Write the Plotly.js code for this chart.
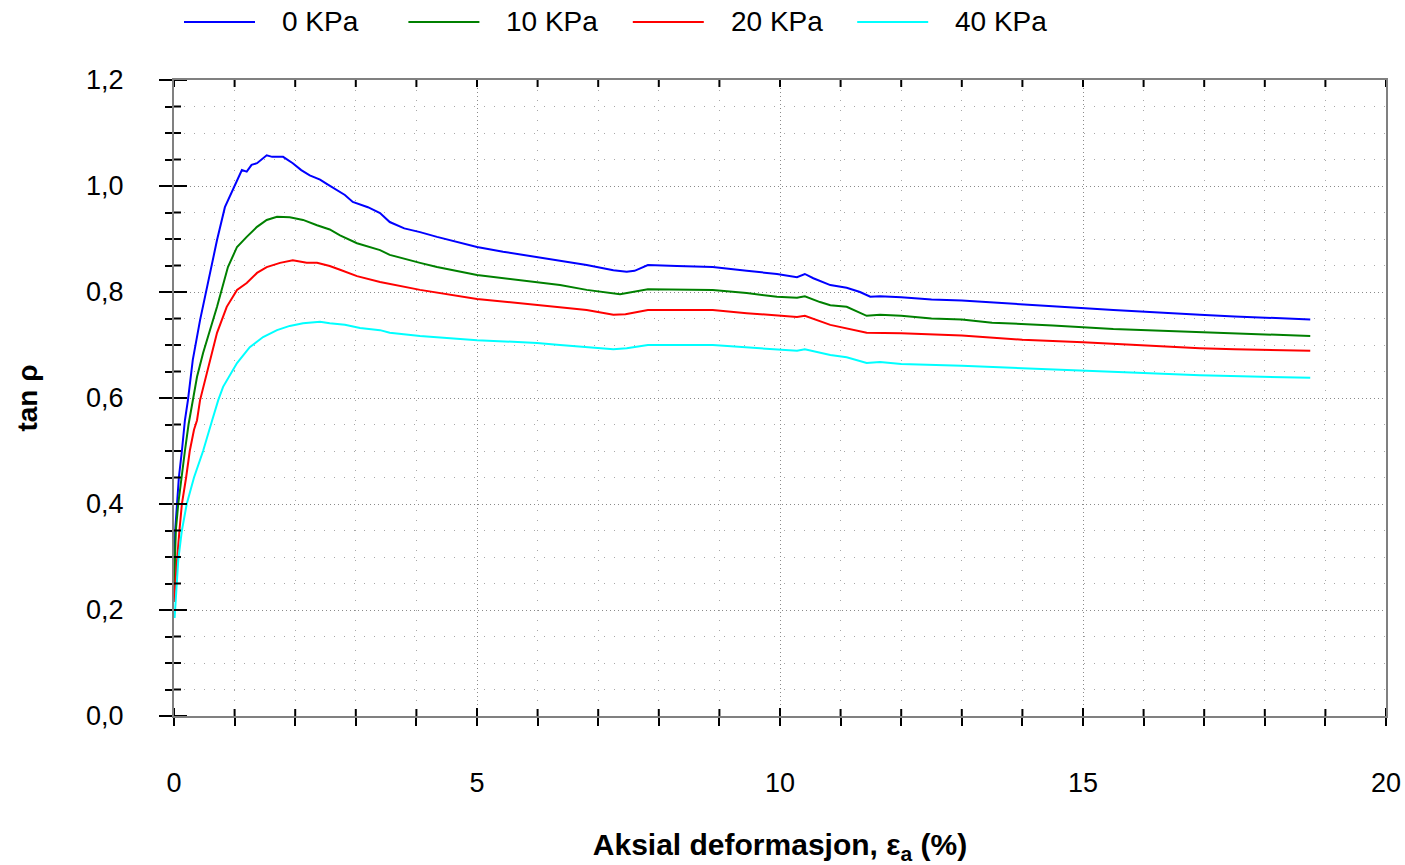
<!DOCTYPE html>
<html>
<head>
<meta charset="utf-8">
<script src="https://cdn.plot.ly/plotly-3.0.1.min.js"></script>
<style>
  html, body { margin: 0; padding: 0; background: #fff; }
  #chart { width: 1405px; height: 865px; }
</style>
</head>
<body>
<div id="chart"></div>
<script>
// Axial strain (%) and tan rho for each confining pressure
const seriesNames = ['0 KPa', '10 KPa', '20 KPa', '40 KPa'];
const seriesColors = ['#0000ff', '#008000', '#ff0000', '#00ffff'];

const strain0 = [0.0, 0.01, 0.02, 0.05, 0.08, 0.13, 0.18, 0.23, 0.31, 0.43, 0.59, 0.71, 0.84, 0.97, 1.04, 1.12, 1.2, 1.28, 1.37, 1.45, 1.53, 1.62, 1.8, 1.96, 2.1, 2.24, 2.41, 2.52, 2.82, 2.95, 3.2, 3.4, 3.56, 3.8, 4.06, 4.34, 4.7, 5.0, 5.43, 5.99, 6.37, 6.81, 7.25, 7.47, 7.6, 7.82, 8.3, 8.89, 9.45, 9.95, 10.28, 10.41, 10.55, 10.83, 11.1, 11.32, 11.49, 11.65, 12.0, 12.5, 13.0, 13.5, 14.5, 15.5, 16.2, 16.93, 17.5, 18.2, 18.75];
const tan0 = [0.22, 0.266, 0.35, 0.40, 0.45, 0.50, 0.558, 0.596, 0.672, 0.747, 0.836, 0.898, 0.96, 0.992, 1.011, 1.03, 1.027, 1.04, 1.043, 1.05, 1.058, 1.055, 1.055, 1.043, 1.03, 1.02, 1.012, 1.004, 0.983, 0.970, 0.96, 0.949, 0.932, 0.92, 0.913, 0.904, 0.893, 0.885, 0.876, 0.866, 0.858, 0.851, 0.841, 0.838, 0.840, 0.851, 0.849, 0.847, 0.840, 0.834, 0.828, 0.834, 0.826, 0.813, 0.808, 0.800, 0.791, 0.792, 0.790, 0.786, 0.784, 0.780, 0.773, 0.766, 0.761, 0.757, 0.754, 0.751, 0.748];

const strain10 = [0.0, 0.01, 0.03, 0.07, 0.12, 0.18, 0.24, 0.31, 0.38, 0.48, 0.6, 0.71, 0.89, 1.04, 1.2, 1.37, 1.53, 1.7, 1.91, 2.13, 2.36, 2.57, 2.74, 3.02, 3.4, 3.56, 4.06, 4.34, 5.0, 5.43, 5.99, 6.37, 6.81, 7.25, 7.36, 7.82, 8.3, 8.89, 9.45, 9.95, 10.28, 10.41, 10.66, 10.83, 11.1, 11.43, 11.65, 12.0, 12.5, 13.0, 13.5, 14.5, 15.5, 16.93, 17.5, 18.2, 18.75];
const tan10 = [0.238, 0.294, 0.35, 0.40, 0.45, 0.50, 0.55, 0.596, 0.64, 0.685, 0.73, 0.772, 0.847, 0.885, 0.904, 0.923, 0.936, 0.942, 0.941, 0.936, 0.926, 0.918, 0.907, 0.892, 0.879, 0.870, 0.855, 0.847, 0.832, 0.826, 0.817, 0.813, 0.804, 0.798, 0.796, 0.805, 0.804, 0.804, 0.798, 0.791, 0.789, 0.792, 0.781, 0.775, 0.772, 0.755, 0.757, 0.755, 0.750, 0.748, 0.742, 0.737, 0.730, 0.724, 0.721, 0.719, 0.717];

const strain20 = [0.0, 0.02, 0.05, 0.09, 0.13, 0.2, 0.26, 0.33, 0.38, 0.43, 0.54, 0.71, 0.87, 1.04, 1.2, 1.37, 1.53, 1.75, 1.96, 2.19, 2.36, 2.57, 2.74, 3.02, 3.4, 4.06, 5.0, 5.99, 6.37, 6.81, 7.25, 7.45, 7.82, 8.3, 8.89, 9.45, 9.95, 10.28, 10.41, 10.66, 10.83, 11.43, 11.65, 12.0, 13.0, 14.0, 15.0, 16.0, 16.93, 17.5, 18.75];
const tan20 = [0.215, 0.25, 0.294, 0.35, 0.40, 0.45, 0.50, 0.54, 0.558, 0.596, 0.647, 0.723, 0.772, 0.804, 0.817, 0.836, 0.847, 0.855, 0.860, 0.855, 0.855, 0.849, 0.842, 0.830, 0.819, 0.804, 0.787, 0.776, 0.772, 0.766, 0.757, 0.758, 0.766, 0.766, 0.766, 0.760, 0.755, 0.753, 0.755, 0.745, 0.738, 0.723, 0.723, 0.722, 0.718, 0.710, 0.705, 0.699, 0.694, 0.692, 0.689];

const strain40 = [0.01, 0.03, 0.07, 0.13, 0.21, 0.33, 0.48, 0.63, 0.73, 0.81, 1.04, 1.25, 1.47, 1.7, 1.91, 2.13, 2.41, 2.57, 2.82, 3.07, 3.4, 3.56, 4.06, 5.0, 5.99, 6.37, 6.81, 7.25, 7.47, 7.82, 8.89, 9.45, 9.95, 10.28, 10.41, 10.66, 10.83, 11.1, 11.43, 11.65, 12.0, 13.0, 14.0, 15.0, 16.0, 16.93, 18.75];
const tan40 = [0.185, 0.23, 0.294, 0.35, 0.40, 0.45, 0.50, 0.558, 0.596, 0.621, 0.666, 0.696, 0.715, 0.728, 0.736, 0.741, 0.744, 0.741, 0.738, 0.732, 0.728, 0.723, 0.717, 0.709, 0.704, 0.700, 0.696, 0.692, 0.694, 0.700, 0.700, 0.696, 0.692, 0.689, 0.692, 0.685, 0.681, 0.677, 0.666, 0.668, 0.664, 0.661, 0.656, 0.651, 0.647, 0.643, 0.638];

const strains = [strain0, strain10, strain20, strain40];
const tans = [tan0, tan10, tan20, tan40];

const traces = seriesNames.map((name, i) => ({
  type: 'scatter',
  mode: 'lines',
  name: name,
  x: strains[i],
  y: tans[i],
  line: { color: seriesColors[i], width: 2 },
  hoverinfo: 'x+y+name'
}));

// plot-area geometry (pixels)
const plotLeft = 174, plotRight = 1386, plotTop = 80, plotBottom = 716;
const plotW = plotRight - plotLeft, plotH = plotBottom - plotTop;
const px2x = px => (px - plotLeft) / plotW;
const py2y = py => (plotBottom - py) / plotH;

const shapes = [];
const annotations = [];

// inner halves of the crossing tick marks (the outer halves are the axis ticks)
const xRange = [0, 20], yRange = [0, 1.2];
const tickStroke = { color: '#000', width: 2 };
for (let k = 0; k <= 20; k++) {
  const v = xRange[0] + k;
  const len = (k % 5 === 0 ? 8 : 7) / plotH;
  shapes.push({ type: 'line', xref: 'x', yref: 'paper', x0: v, x1: v, y0: 0, y1: len, line: tickStroke });
  shapes.push({ type: 'line', xref: 'x', yref: 'paper', x0: v, x1: v, y0: 1, y1: 1 - 7 / plotH, line: tickStroke });
}
for (let k = 0; k <= 24; k++) {
  const v = +(yRange[0] + k * 0.05).toFixed(2);
  const len = (k % 4 === 0 ? 13 : 7) / plotW;
  shapes.push({ type: 'line', xref: 'paper', yref: 'y', x0: 0, x1: len, y0: v, y1: v, line: tickStroke });
}

// legend row
const legendRowY = py2y(22);
const legendStart = 184, legendStep = 224.4, legendLineLen = 71, legendTextGap = 96;
seriesNames.forEach((name, i) => {
  const x0 = legendStart + i * legendStep;
  shapes.push({
    type: 'line', xref: 'paper', yref: 'paper',
    x0: px2x(x0), x1: px2x(x0 + legendLineLen), y0: legendRowY, y1: legendRowY,
    line: { color: seriesColors[i], width: 2 }
  });
  annotations.push({
    xref: 'paper', yref: 'paper', x: px2x(x0 + legendTextGap), y: legendRowY,
    xanchor: 'left', yanchor: 'middle', showarrow: false,
    text: name, font: { size: 28, color: '#000' }
  });
});

const layout = {
  width: 1405, height: 865,
  margin: { l: plotLeft, r: 1405 - plotRight, t: plotTop, b: 865 - plotBottom },
  separators: ',.',
  paper_bgcolor: '#fff', plot_bgcolor: '#fff',
  showlegend: false,
  font: { family: '"Liberation Sans", Arial, sans-serif', size: 27, color: '#000' },
  xaxis: {
    range: xRange, tick0: 0, dtick: 5, ticks: 'outside', ticklen: 8, tickwidth: 2, tickcolor: '#000',
    showline: true, linecolor: '#808080', linewidth: 2, mirror: true,
    showgrid: true, gridcolor: '#8a8a8a', gridwidth: 1, griddash: '1px,3px',
    zeroline: false, ticklabelstandoff: 34,
    minor: { dtick: 1, ticks: 'outside', ticklen: 8, tickwidth: 2, tickcolor: '#000',
             showgrid: true, gridcolor: '#a8a8a8', gridwidth: 1, griddash: '1px,9px' },
    title: { text: '<b>Aksial deformasjon, ε<sub>a</sub> (%)</b>', font: { size: 30 }, standoff: 42 }
  },
  yaxis: {
    range: yRange, tick0: 0, dtick: 0.2, tickformat: '.1f', ticks: 'outside', ticklen: 13,
    tickwidth: 2, tickcolor: '#000',
    showline: true, linecolor: '#808080', linewidth: 2, mirror: true,
    showgrid: true, gridcolor: '#8a8a8a', gridwidth: 1, griddash: '1px,3px',
    zeroline: false, ticklabelstandoff: 30,
    minor: { dtick: 0.05, ticks: 'outside', ticklen: 7, tickwidth: 2, tickcolor: '#000',
             showgrid: true, gridcolor: '#a8a8a8', gridwidth: 1, griddash: '1px,9px' },
    title: { text: '<b>tan ρ</b>', font: { size: 28 }, standoff: 40 }
  },
  shapes: shapes,
  annotations: annotations
};

Plotly.newPlot('chart', traces, layout, { displayModeBar: false, staticPlot: true });
</script>
</body>
</html>
